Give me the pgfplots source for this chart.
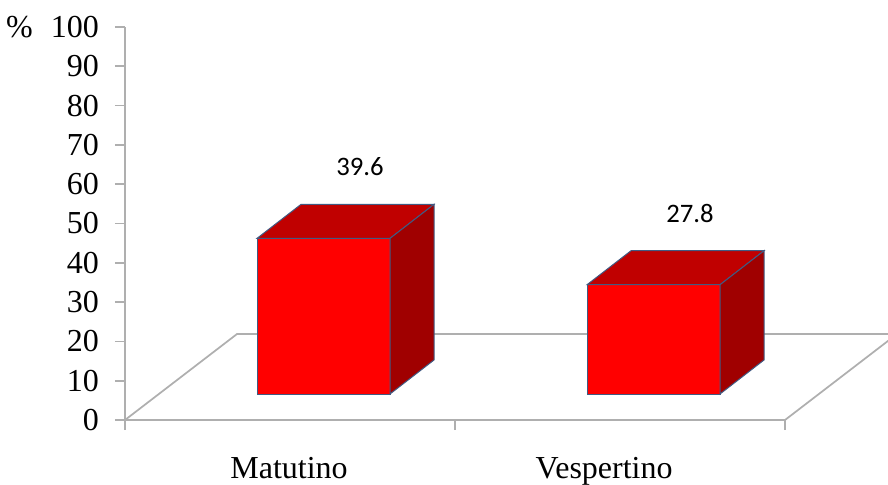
\documentclass[border=0pt]{standalone}
\usepackage{pgfplots}
\pgfplotsset{compat=1.18}
\usepackage{pgfplotstable}
\usepackage{fontspec}
\setmainfont{Liberation Serif}
\newfontfamily\carlito{Carlito}
\definecolor{barfront}{RGB}{255,0,0}
\definecolor{bartop}{RGB}{192,0,0}
\definecolor{barside}{RGB}{160,0,0}
\definecolor{edge}{RGB}{65,90,130}
\definecolor{axisgray}{RGB}{175,175,175}

\pgfplotstableread{
x v
0.5 39.6
1.5 27.8
}\datatable

\pgfdeclareplotmark{box3d}{%
  \pgfmathsetmacro\hh{\val*2.9475}%
  \pgfsetlinewidth{0.75pt}%
  \pgfsetstrokecolor{edge}%
  \pgfsetfillcolor{bartop}%
  \pgfpathmoveto{\pgfpoint{-24.75pt}{19.5pt}}%
  \pgfpathlineto{\pgfpoint{75pt}{19.5pt}}%
  \pgfpathlineto{\pgfpoint{108pt}{45pt}}%
  \pgfpathlineto{\pgfpoint{8.25pt}{45pt}}%
  \pgfpathclose
  \pgfusepath{fill,stroke}%
  \pgfsetfillcolor{barside}%
  \pgfpathmoveto{\pgfpoint{75pt}{19.5pt}}%
  \pgfpathlineto{\pgfpoint{75pt}{19.5pt-\hh pt}}%
  \pgfpathlineto{\pgfpoint{108pt}{45pt-\hh pt}}%
  \pgfpathlineto{\pgfpoint{108pt}{45pt}}%
  \pgfpathclose
  \pgfusepath{fill,stroke}%
}

\begin{document}
\begin{tikzpicture}
\begin{axis}[
  at={(0,0)}, anchor=origin,
  x=247.5pt, y=2.9475pt,
  xmin=0, xmax=2, ymin=0, ymax=100,
  axis x line*=bottom, axis y line*=left,
  axis line style={axisgray, line width=1.3pt, -},
  clip=false,
  ytick={0,10,...,100},
  xtick={0,1,2}, xticklabels={},
  extra x ticks={0.497,1.452},
  extra x tick labels={Matutino,Vespertino},
  extra x tick style={major tick length=0pt, tick label style={yshift=-24.5pt}},
  tick align=outside,
  major tick length=7.5pt,
  tick style={axisgray, line width=1.3pt},
  tick label style={font=\fontsize{24}{28}\selectfont},
  /pgf/number format/assume math mode=true,
  yticklabel style={xshift=-8.5pt},
]
\draw[axisgray, line width=1.3pt] (axis cs:0,0) -- (axis cs:0.3394,21.88) -- (axis cs:2.3394,21.88) -- (axis cs:2,0);
\addplot[ybar, bar width=99.75pt, bar shift=25.125pt, yshift=19.5pt,
  fill=barfront, draw=edge, line width=0.75pt] table[x=x, y=v] {\datatable};
\addplot[only marks, mark=box3d,
  visualization depends on={\thisrow{v} \as \val},
  point meta=explicit symbolic,
  nodes near coords,
  nodes near coords style={anchor=center, xshift=52.5pt, yshift=73pt,
    font=\carlito\fontsize{20}{24}\selectfont, text=black}]
  table[x=x, y=v, meta=v] {\datatable};
\node[anchor=east, inner sep=0pt, font=\fontsize{24}{28}\selectfont, xshift=-69pt] at (axis cs:0,100) {\%};
\end{axis}
\pgfresetboundingbox
\path[use as bounding box] (-93.75pt,-48.75pt) rectangle (572.25pt,315pt);
\end{tikzpicture}
\end{document}
